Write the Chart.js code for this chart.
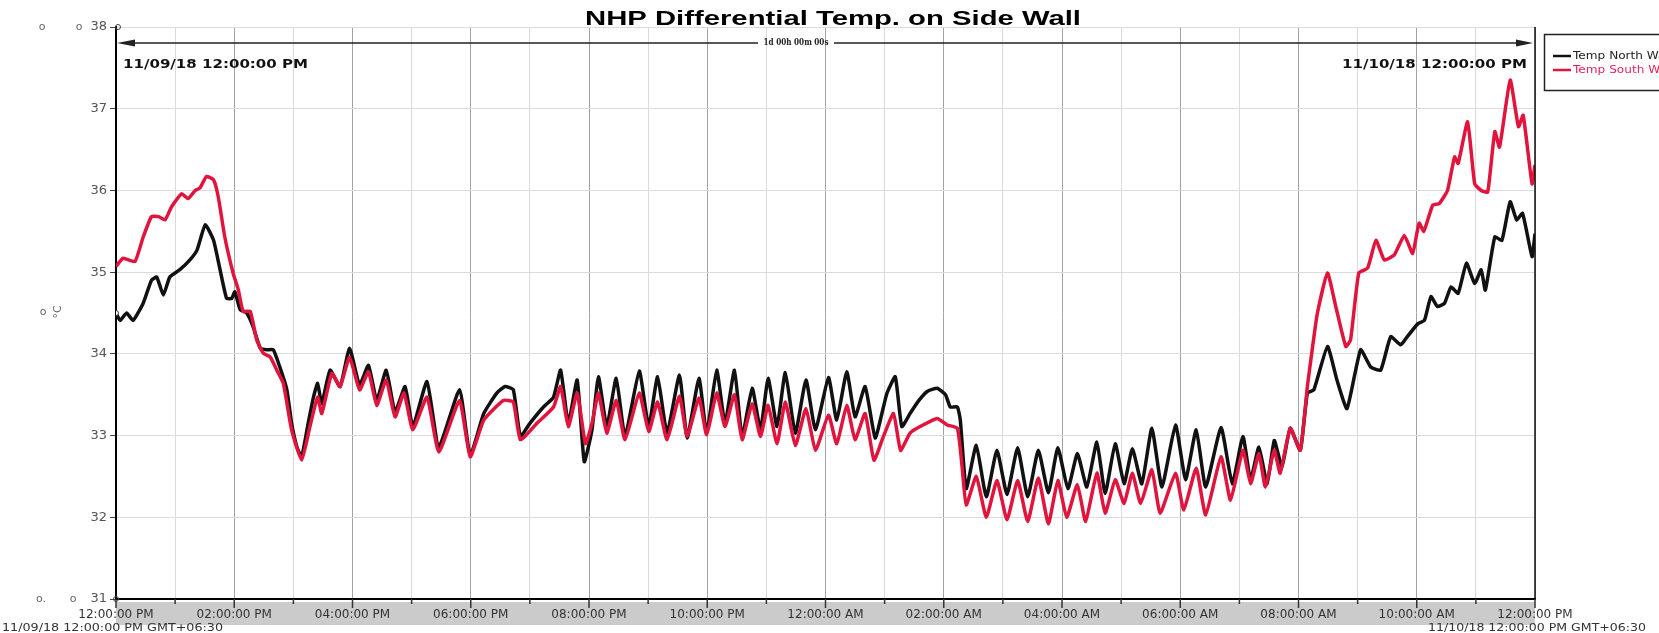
<!DOCTYPE html>
<html>
<head>
<meta charset="utf-8">
<title>NHP Differential Temp. on Side Wall</title>
<script src="https://cdn.jsdelivr.net/npm/chart.js@4.4.1/dist/chart.umd.min.js"></script>
<style>
  html, body { margin: 0; padding: 0; background: #fff; }
  #wrap { position: relative; width: 1659px; height: 633px; }
</style>
</head>
<body>
<div id="wrap"><canvas id="chart" width="1659" height="633"></canvas></div>
<script>
// hours since 11/09/18 12:00 PM
const northHours = [0.00,0.07,0.18,0.29,0.46,0.60,0.69,0.80,0.91,1.08,1.25,1.37,1.51,1.65,1.76,1.87,1.96,2.01,2.10,2.21,2.32,2.44,2.55,2.66,2.77,2.89,2.97,3.06,3.14,3.25,3.34,3.41,3.48,3.62,3.79,3.95,4.12,4.27,4.41,4.57,4.72,4.89,5.02,5.26,5.46,5.81,5.99,6.22,6.44,6.58,6.72,6.84,7.00,7.23,7.40,7.52,7.65,7.80,7.92,8.05,8.16,8.30,8.46,8.61,8.85,9.01,9.16,9.32,9.53,9.66,9.86,9.99,10.16,10.30,10.46,10.59,10.76,10.90,11.03,11.18,11.32,11.49,11.67,11.83,12.05,12.19,12.36,12.50,12.67,12.84,12.98,13.04,13.18,13.29,13.43,13.58,13.72,13.89,14.03,14.11,14.23,14.28,14.38,14.55,14.72,14.90,15.07,15.25,15.42,15.60,15.77,15.93,16.10,16.26,16.42,16.59,16.73,16.90,17.05,17.19,17.35,17.52,17.69,17.92,18.09,18.27,18.43,18.69,18.88,19.06,19.19,19.33,19.47,19.59,19.72,19.86,20.03,20.15,20.26,20.49,20.65,20.82,21.05,21.22,21.39,21.56,21.73,21.84,22.02,22.13,22.24,22.35,22.47,22.58,22.70,22.84,22.98,23.09,23.16,23.32,23.44,23.58,23.69,23.79,23.95,24.00];
const northTemps = [34.50,34.41,34.50,34.41,34.62,34.90,34.94,34.72,34.94,35.03,35.15,35.27,35.58,35.39,35.03,34.68,34.68,34.76,34.54,34.50,34.33,34.07,34.05,34.05,33.84,33.56,33.15,32.86,32.74,33.15,33.47,33.64,33.39,33.80,33.60,34.07,33.62,33.86,33.43,33.80,33.29,33.60,33.11,33.66,32.86,33.56,32.76,33.27,33.52,33.60,33.56,32.99,33.15,33.35,33.47,33.80,33.15,33.68,32.68,33.07,33.72,33.11,33.70,32.99,33.79,33.11,33.72,33.03,33.74,32.97,33.70,33.03,33.80,33.15,33.80,32.99,33.58,33.07,33.70,33.11,33.77,33.03,33.68,33.07,33.71,33.19,33.78,33.23,33.60,32.97,33.35,33.52,33.72,33.11,33.27,33.43,33.54,33.58,33.50,33.35,33.35,33.19,32.35,32.88,32.25,32.82,32.28,32.85,32.25,32.82,32.30,32.85,32.35,32.78,32.37,32.92,32.29,32.90,32.41,32.84,32.41,33.09,32.37,33.13,32.46,33.07,32.37,33.10,32.41,32.99,32.46,32.86,32.41,32.94,32.62,33.09,32.82,33.52,33.56,34.09,33.68,33.33,34.05,33.84,33.80,34.21,34.11,34.21,34.37,34.41,34.70,34.58,34.62,34.82,34.74,35.11,34.86,35.03,34.78,35.43,35.39,35.86,35.64,35.72,35.19,35.47];

const southHours = [0.00,0.12,0.32,0.46,0.60,0.72,0.83,0.94,1.11,1.22,1.34,1.42,1.53,1.65,1.73,1.84,1.98,2.07,2.15,2.27,2.38,2.49,2.61,2.72,2.83,2.97,3.14,3.28,3.41,3.48,3.65,3.79,3.95,4.12,4.27,4.41,4.57,4.72,4.87,5.02,5.26,5.46,5.81,5.99,6.22,6.55,6.72,6.84,7.12,7.40,7.52,7.65,7.80,7.94,8.05,8.16,8.30,8.46,8.61,8.85,9.01,9.16,9.32,9.53,9.66,9.86,9.99,10.16,10.30,10.46,10.59,10.76,10.90,11.03,11.18,11.32,11.49,11.67,11.83,12.05,12.19,12.36,12.50,12.67,12.82,12.98,13.15,13.27,13.43,13.60,13.89,14.06,14.23,14.31,14.38,14.55,14.72,14.90,15.07,15.25,15.42,15.60,15.77,15.93,16.08,16.26,16.40,16.59,16.73,16.90,17.05,17.19,17.33,17.52,17.66,17.92,18.06,18.27,18.43,18.69,18.85,19.06,19.19,19.33,19.44,19.59,19.69,19.86,20.03,20.15,20.25,20.32,20.49,20.63,20.80,20.88,21.02,21.17,21.31,21.45,21.62,21.79,21.93,22.04,22.12,22.27,22.38,22.52,22.64,22.70,22.86,22.98,23.09,23.20,23.32,23.40,23.58,23.72,23.80,23.95,24.00];
const southTemps = [35.07,35.17,35.13,35.43,35.68,35.68,35.64,35.80,35.96,35.90,36.00,36.03,36.17,36.13,35.92,35.43,34.99,34.78,34.52,34.52,34.17,34.01,33.96,33.80,33.64,33.07,32.70,33.11,33.47,33.27,33.76,33.60,33.96,33.56,33.78,33.37,33.68,33.23,33.52,33.07,33.47,32.80,33.43,32.74,33.19,33.43,33.41,32.95,33.15,33.35,33.60,33.11,33.52,32.90,33.15,33.52,33.03,33.43,32.95,33.52,33.05,33.41,32.95,33.48,32.99,33.46,33.01,33.52,33.11,33.50,32.95,33.39,32.99,33.37,32.90,33.41,32.88,33.33,32.82,33.25,32.90,33.37,32.95,33.27,32.70,32.99,33.27,32.82,33.03,33.11,33.21,33.13,33.09,32.62,32.15,32.50,32.00,32.45,31.97,32.45,31.95,32.48,31.92,32.45,32.00,32.40,31.95,32.54,32.05,32.46,32.17,32.54,32.17,32.58,32.05,32.54,32.09,32.60,32.03,32.74,32.21,32.82,32.41,32.78,32.37,32.82,32.54,33.09,32.82,33.60,34.15,34.50,34.99,34.58,34.09,34.17,34.99,35.05,35.39,35.15,35.21,35.45,35.23,35.60,35.50,35.82,35.84,36.00,36.41,36.33,36.84,36.08,36.00,35.98,36.72,36.53,37.35,36.78,36.92,36.08,36.31];

const xTickLabels = ['12:00:00 PM','02:00:00 PM','04:00:00 PM','06:00:00 PM','08:00:00 PM','10:00:00 PM','12:00:00 AM','02:00:00 AM','04:00:00 AM','06:00:00 AM','08:00:00 AM','10:00:00 AM','12:00:00 PM'];

const NORTH = '#111111';
const SOUTH = '#e0143c';

// the original export is stretched sideways, so text is squeezed to measured widths
function fitText(ctx, s, x, y, width) {
  const sx = width / ctx.measureText(s).width;
  ctx.save();
  ctx.translate(x, y);
  ctx.scale(sx, 1);
  ctx.fillText(s, 0, 0);
  ctx.restore();
}

const decor = {
  id: 'decor',
  beforeDraw(chart) {
    const { ctx, chartArea: a } = chart;
    ctx.save();
    ctx.fillStyle = '#fff';
    ctx.fillRect(0, 0, chart.width, chart.height);
    ctx.fillStyle = '#cbcbcb';
    ctx.fillRect(a.left, a.bottom + 3, a.right - a.left, 23);
    ctx.restore();
  },
  afterDraw(chart) {
    const { ctx, chartArea: a } = chart;
    const xs = chart.scales.x;
    ctx.save();

    // right frame
    ctx.strokeStyle = '#111';
    ctx.lineWidth = 1.5;
    ctx.beginPath();
    ctx.moveTo(a.right, a.top);
    ctx.lineTo(a.right, a.bottom + 1);
    ctx.stroke();

    // hour ticks under the axis
    ctx.strokeStyle = '#333';
    for (let h = 0; h <= 24; h++) {
      const px = xs.getPixelForValue(h);
      ctx.beginPath();
      ctx.moveTo(px, a.bottom);
      ctx.lineTo(px, a.bottom + (h % 2 ? 5 : 9));
      ctx.stroke();
    }

    // little circles at the axis ends
    ctx.lineWidth = 1;
    ctx.strokeStyle = '#444';
    [[a.left + 2, a.top], [a.left, a.bottom]].forEach(([cx, cy]) => {
      ctx.beginPath(); ctx.arc(cx, cy, 2.5, 0, Math.PI * 2); ctx.stroke();
    });

    // stray "o" glyphs in the left margin
    ctx.fillStyle = '#666';
    ctx.font = '11px "DejaVu Sans"';
    ctx.textAlign = 'center';
    ctx.textBaseline = 'middle';
    ctx.fillText('o', 42, a.top);
    ctx.fillText('o', 79, a.top);
    ctx.fillText('o.', 41, a.bottom);
    ctx.fillText('o', 73, a.bottom);
    ctx.fillText('o', 43, 312);
    ctx.save();
    ctx.translate(58, 312);
    ctx.rotate(-Math.PI / 2);
    ctx.fillText('°C', 0, 0);
    ctx.restore();

    // title
    ctx.fillStyle = '#000';
    ctx.font = 'bold 21px "Liberation Sans"';
    ctx.textAlign = 'center';
    ctx.textBaseline = 'alphabetic';
    fitText(ctx, 'NHP Differential Temp. on Side Wall', 833, 25, 496);

    // span arrow
    const ay = 43;
    ctx.strokeStyle = '#222';
    ctx.lineWidth = 1.5;
    ctx.beginPath();
    ctx.moveTo(a.left + 14, ay); ctx.lineTo(758, ay);
    ctx.moveTo(834, ay); ctx.lineTo(a.right - 16, ay);
    ctx.stroke();
    ctx.fillStyle = '#222';
    ctx.beginPath();
    ctx.moveTo(a.left + 1, ay); ctx.lineTo(a.left + 19, ay - 3.5); ctx.lineTo(a.left + 19, ay + 3.5); ctx.closePath();
    ctx.moveTo(a.right - 2, ay); ctx.lineTo(a.right - 19, ay - 3.5); ctx.lineTo(a.right - 19, ay + 3.5); ctx.closePath();
    ctx.fill();
    ctx.font = 'bold 9px "DejaVu Serif"';
    ctx.textBaseline = 'middle';
    fitText(ctx, '1d 00h 00m 00s', 796, ay, 65);

    // range start / end stamps
    ctx.fillStyle = '#111';
    ctx.font = 'bold 13px "DejaVu Sans"';
    ctx.textAlign = 'left';
    fitText(ctx, '11/09/18 12:00:00 PM', 123, 65, 185);
    ctx.textAlign = 'right';
    fitText(ctx, '11/10/18 12:00:00 PM', 1527, 65, 185);

    // time-zone stamps under the axis
    ctx.fillStyle = '#333';
    ctx.font = '11px "DejaVu Sans"';
    ctx.textAlign = 'left';
    fitText(ctx, '11/09/18 12:00:00 PM GMT+06:30', 2, 628, 221);
    ctx.textAlign = 'right';
    fitText(ctx, '11/10/18 12:00:00 PM GMT+06:30', 1646, 628, 218);

    // legend box, runs off the canvas edge like the original
    ctx.fillStyle = '#fff';
    ctx.fillRect(1544.5, 34.5, 200, 56);
    ctx.strokeStyle = '#222';
    ctx.lineWidth = 1.5;
    ctx.strokeRect(1544.5, 34.5, 200, 56);
    const items = [
      { label: chart.data.datasets[0].label, color: NORTH, text: '#222', y: 56 },
      { label: chart.data.datasets[1].label, color: SOUTH, text: '#e0245e', y: 70 },
    ];
    ctx.font = '11px "DejaVu Sans"';
    ctx.textAlign = 'left';
    const sx = 70 / ctx.measureText('Temp North').width;
    items.forEach((it) => {
      ctx.strokeStyle = it.color;
      ctx.lineWidth = 2.5;
      ctx.beginPath(); ctx.moveTo(1553, it.y); ctx.lineTo(1571, it.y); ctx.stroke();
      ctx.fillStyle = it.text;
      ctx.save();
      ctx.translate(1573, it.y);
      ctx.scale(sx, 1);
      ctx.fillText(it.label, 0, 0);
      ctx.restore();
    });

    ctx.restore();
  },
};

const series = (hours, temps) => hours.map((h, i) => ({ x: h, y: temps[i] }));

new Chart(document.getElementById('chart'), {
  type: 'line',
  data: {
    datasets: [
      {
        label: 'Temp North Wall', data: series(northHours, northTemps),
        borderColor: NORTH, borderWidth: 3.5, borderJoinStyle: 'round',
        pointRadius: (c) => (c.dataIndex === 0 ? 2.5 : 0), pointBackgroundColor: '#fff', pointBorderColor: '#444', pointBorderWidth: 1,
        tension: 0.15, order: 1,
      },
      {
        label: 'Temp South Wall', data: series(southHours, southTemps),
        borderColor: SOUTH, borderWidth: 3.5, borderJoinStyle: 'round',
        pointRadius: 0, tension: 0.15, order: 0,
      },
    ],
  },
  options: {
    responsive: false,
    animation: false,
    events: [],
    layout: { padding: { left: 0, right: 124, top: 27, bottom: 0 } },
    plugins: { legend: { display: false }, tooltip: { enabled: false } },
    scales: {
      x: {
        type: 'linear', min: 0, max: 24,
        afterFit(s) { s.height = 34; },
        grid: {
          color: (c) => (c.tick && c.tick.value % 2 === 0 ? '#a3a3a3' : '#dadada'),
          lineWidth: 1, drawTicks: false,
        },
        border: { display: true, color: '#000', width: 2 },
        ticks: {
          stepSize: 1, autoSkip: false, maxRotation: 0, padding: 9,
          color: '#333', font: { family: 'DejaVu Sans', size: 12 },
          callback: (v) => (v % 2 === 0 ? xTickLabels[v / 2] : ''),
        },
      },
      y: {
        min: 31, max: 38,
        afterFit(s) { s.width = 116; },
        grid: { color: '#dcdcdc', tickColor: '#444', tickLength: 6 },
        border: { display: true, color: '#000', width: 2 },
        ticks: { stepSize: 1, padding: 3, color: '#555', font: { family: 'DejaVu Sans', size: 13 } },
      },
    },
  },
  plugins: [decor],
});
</script>
</body>
</html>
